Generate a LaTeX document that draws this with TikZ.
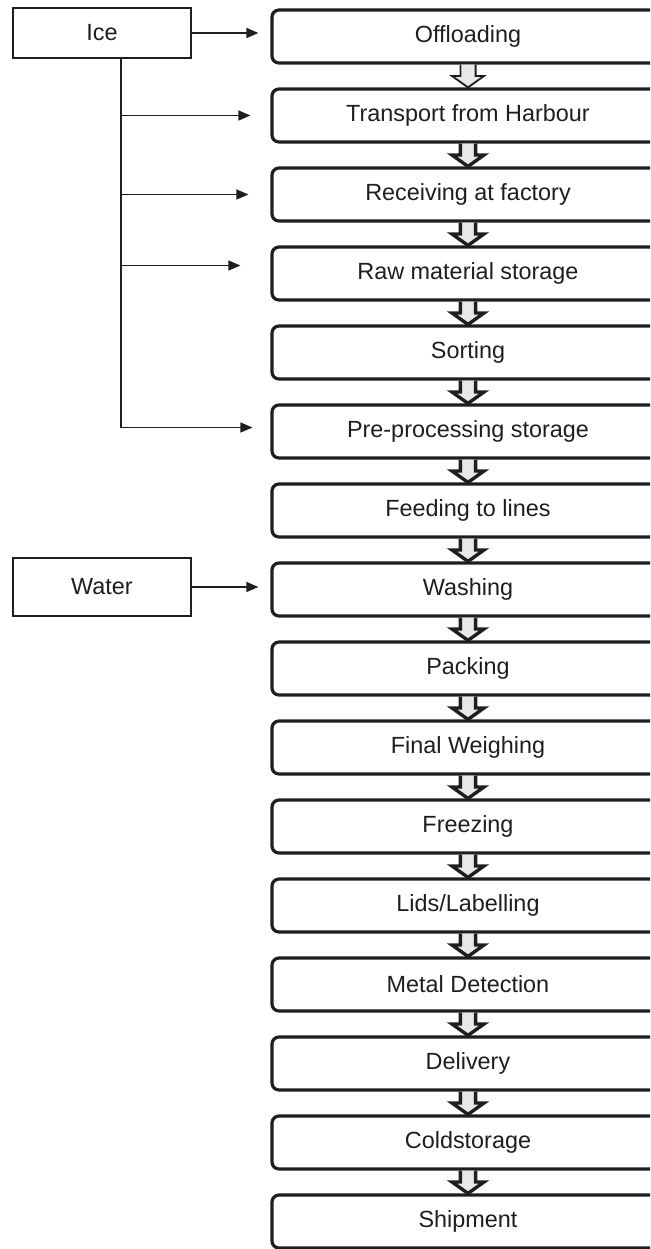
\documentclass[tikz,border=0pt]{standalone}
\usepackage{fontspec}
\setmainfont{Liberation Sans}
\usetikzlibrary{arrows.meta,positioning,calc}
\definecolor{ink}{RGB}{30,30,30}
\tikzset{
  >={Triangle[length=6pt,width=5pt]},
  stage/.style={draw=ink,line width=1.6pt,rounded corners=3.5pt,fill=white,
    minimum width=196pt,minimum height=26.5pt,inner sep=0pt,
    font=\fontsize{11.7}{14}\selectfont,text=ink},
  supply/.style={draw=ink,line width=0.9pt,fill=white,minimum width=89pt,
    inner sep=0pt,font=\fontsize{11.7}{14}\selectfont,text=ink},
  feed/.style={->,draw=ink,line width=0.7pt},
  hollow/.style={draw=ink,line width=#1,fill=gray!18,line join=miter},
  hollow/.default=1.7pt,
}
\begin{document}
\begin{tikzpicture}[x=0.5pt,y=-0.5pt]
  \clip (0,0) rectangle (650,1249);
  \useasboundingbox (0,0) rectangle (650,1249);
  % process chain
  \foreach \t [count=\i] in {Offloading,Transport from Harbour,Receiving at factory,
    Raw material storage,Sorting,Pre-processing storage,Feeding to lines,Washing,
    Packing,Final Weighing,Freezing,Lids/Labelling,Metal Detection,Delivery,
    Coldstorage,Shipment}{
    \node[stage] (s\i) at (468,{36.5+79*(\i-1)}) {\t};
  }
  \foreach \i/\w [evaluate=\i as \j using int(\i+1)] in {1/0.9pt,2/1.7pt,3/1.7pt,
    4/1.7pt,5/1.7pt,6/1.7pt,7/1.7pt,8/1.7pt,9/1.7pt,10/1.7pt,11/1.7pt,12/1.7pt,
    13/1.7pt,14/1.7pt,15/1.7pt}{
    \coordinate (m\i) at ($(s\i.south)!0.5!(s\j.north)$);
    \draw[hollow=\w] ([xshift=-3.8pt]s\i.south) -- ([xshift=-3.8pt]m\i)
      -- ([xshift=-8pt]m\i) -- (s\j.north) -- ([xshift=8pt]m\i)
      -- ([xshift=3.8pt]m\i) -- ([xshift=3.8pt]s\i.south);
  }
  % inputs
  \node[supply,minimum height=25pt] (ice) at (102,33) {Ice};
  \node[supply,minimum height=29pt] (water) at (102,587) {Water};
  \coordinate (trunk) at ([xshift=9.5pt]ice.south);
  \draw[feed] (ice.east) -- ([xshift=-6pt]ice.east -| s1.west);
  \draw[feed] (trunk |- s2.west) -- ([xshift=-10pt]s2.west);
  \draw[feed] (trunk |- s3.west) -- ([xshift=-11pt]s3.west);
  \draw[feed] ([yshift=4pt]trunk |- s4.west) -- ([xshift=-15pt,yshift=4pt]s4.west);
  \draw[feed] (trunk) |- ([xshift=-9pt,yshift=2pt]s6.west);
  \draw[feed] (water.east) -- ([xshift=-6pt]water.east -| s8.west);
\end{tikzpicture}
\end{document}
